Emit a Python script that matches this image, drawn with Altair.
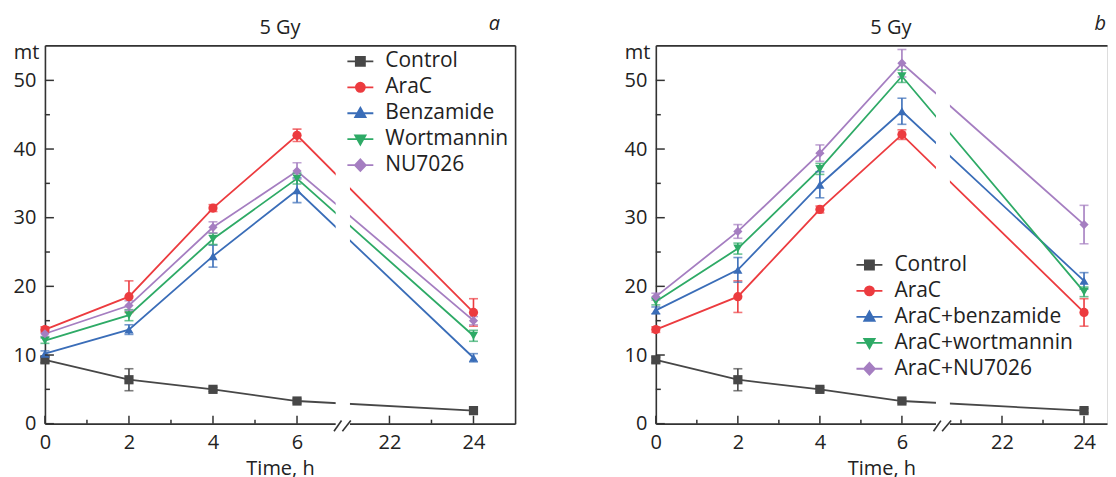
import altair as alt
import pandas as pd

# ---------------- data ----------------
TIMES = [0, 2, 4, 6, 24]

CONTROL = [9.3, 6.4, 5.0, 3.3, 1.9]
CONTROL_ERR = [0.4, 1.6, 0.3, 0.3, 0.3]

A_ARAC = [13.7, 18.5, 31.4, 42.0, 16.2]
A_ARAC_ERR = [0.4, 2.3, 0.5, 0.9, 2.0]
A_BENZ = [10.2, 13.7, 24.4, 34.0, 9.6]
A_BENZ_ERR = [0.4, 0.7, 1.6, 1.8, 0.6]
A_WORT = [12.1, 15.8, 26.9, 35.7, 12.8]
A_WORT_ERR = [0.4, 0.8, 0.8, 0.8, 0.8]
A_NU = [13.1, 17.2, 28.6, 36.8, 15.0]
A_NU_ERR = [0.4, 0.7, 0.8, 1.2, 0.6]

B_ARAC = [13.7, 18.5, 31.2, 42.1, 16.2]
B_ARAC_ERR = [0.4, 2.3, 0.5, 0.7, 2.0]
B_BENZ = [16.5, 22.4, 34.8, 45.5, 20.8]
B_BENZ_ERR = [0.5, 1.8, 1.9, 1.9, 1.2]
B_WORT = [17.8, 25.5, 37.1, 50.6, 19.2]
B_WORT_ERR = [0.5, 0.8, 0.8, 0.9, 0.7]
B_NU = [18.5, 28.0, 39.4, 52.5, 29.0]
B_NU_ERR = [0.5, 1.0, 1.2, 2.0, 2.8]

A_NAMES = ["Control", "AraC", "Benzamide", "Wortmannin", "NU7026"]
B_NAMES = ["Control", "AraC", "AraC+benzamide", "AraC+wortmannin", "AraC+NU7026"]

Y_MAJOR = [0, 10, 20, 30, 40, 50]
Y_MINOR = [5, 15, 25, 35, 45]
X_MAJOR = [0, 2, 4, 6, 22, 24]
A_X_MINOR = [1, 3, 5, 23]
B_X_MINOR = [1, 3, 5, 21, 23]

# ---------------- styles ----------------
COLORS = ["#474747", "#EC3B3F", "#3A6DB8", "#2EAA66", "#A57EC1"]
SHAPES = ["square", "circle", "triangle-up", "triangle-down", "diamond"]
LEG_PATHS = [
    "M-1,0H1M-0.35,-0.35H0.35V0.35H-0.35Z",
    "M-1,0H1M-0.35,0A0.35,0.35 0 1,0 0.35,0A0.35,0.35 0 1,0 -0.35,0Z",
    "M-1,0H1M0,-0.42L0.4,0.3L-0.4,0.3Z",
    "M-1,0H1M0,0.42L0.4,-0.3L-0.4,-0.3Z",
    "M-1,0H1M0,-0.45L0.42,0L0,0.45L-0.42,0Z",
]
FONT = "Open Sans"
TXT = "#222222"
AX = "#333333"
H = 379
YMAX = 55.1


def panel(names, means, errs, offset, xmax, width, minor_hours, rect_x,
          slashes, leg_xy, letter, letter_x, letter_align, right_frame):
    rows = []
    for n, m, e in zip(names, means, errs):
        for t, v, er in zip(TIMES, m, e):
            rows.append({"series": n, "t": t, "y": v, "lo": v - er, "hi": v + er})
    df = pd.DataFrame(rows)
    vexpr = f"datum.t > 10 ? datum.t - {offset} : datum.t"
    base = alt.Chart(df).transform_calculate(v=vexpr)

    xs = alt.Scale(domain=[0, xmax], nice=False, zero=False)
    ys = alt.Scale(domain=[0, YMAX], nice=False, zero=False)
    # reversed order (same mapping) so this scale is not merged with the legend scales
    cs = alt.Scale(domain=names[::-1], range=COLORS[::-1])

    def virt(h):
        return h if h <= 10 else round(h - offset, 4)

    xaxis = alt.Axis(
        values=[virt(h) for h in X_MAJOR],
        labelExpr=f"format(datum.value > 7 ? datum.value + {offset} : datum.value, '.0f')",
        ticks=False, tickSize=0, grid=False, domainColor=AX, domainWidth=1.6,
        labelPadding=9, labelFontSize=20, labelFont=FONT, labelColor=TXT,
        labelFlush=False, labelOverlap=False,
        title="Time, h", titleFontSize=20, titleFont=FONT, titleFontWeight="normal",
        titleColor=TXT, titlePadding=6)
    yaxis = alt.Axis(
        values=Y_MAJOR, format="d", ticks=False, tickSize=0, grid=False,
        domainColor=AX, domainWidth=1.6, labelPadding=9, labelFontSize=20,
        labelFont=FONT, labelColor=TXT, labelFlush=False, labelOverlap=False,
        title="mt", titleAngle=0, titleAlign="right", titleBaseline="alphabetic",
        titleX=-6, titleY=13, titleFontSize=20, titleFont=FONT,
        titleFontWeight="normal", titleColor=TXT)
    frame_x = alt.Axis(orient="top", labels=False, ticks=False, grid=False,
                       domain=True, domainColor=AX, domainWidth=1.6, title=None)
    frame_y = alt.Axis(orient="right", labels=False, ticks=False, grid=False,
                       domain=True, domainColor=AX, domainWidth=1.6, title=None)

    X = lambda f: alt.X(f, scale=xs, axis=None)
    Y = lambda f: alt.Y(f, scale=ys, axis=None)
    C = alt.Color("series:N", scale=cs, legend=None)

    layers = []
    layers.append(base.mark_line(strokeWidth=1.8).encode(
        x=alt.X("v:Q", scale=xs, axis=xaxis),
        y=alt.Y("y:Q", scale=ys, axis=yaxis), color=C))

    rect_df = pd.DataFrame([{"x1": rect_x[0], "x2": rect_x[1], "y1": -0.4, "y2": 54.7}])
    layers.append(alt.Chart(rect_df).mark_rect(color="white").encode(
        x=alt.X("x1:Q", scale=xs, axis=frame_x), x2="x2:Q",
        y=alt.Y("y1:Q", scale=ys, axis=frame_y if right_frame else None), y2="y2:Q"))

    layers.append(base.mark_rule(strokeWidth=1.6).encode(
        x=X("v:Q"), y=Y("lo:Q"), y2="hi:Q", color=C))
    layers.append(base.transform_fold(["lo", "hi"], as_=["k", "cap"]).mark_tick(
        orient="horizontal", size=9, thickness=1.6).encode(
        x=X("v:Q"), y=Y("cap:Q"), color=C))

    for n, shp in zip(names, SHAPES):
        layers.append(base.transform_filter(alt.datum.series == n).mark_point(
            shape=shp, filled=True, size=85, opacity=1).encode(
            x=X("v:Q"), y=Y("y:Q"), color=C))

    # inward ticks
    tmaj = alt.Chart(pd.DataFrame({"t": X_MAJOR})).transform_calculate(v=vexpr, z="0")
    layers.append(tmaj.mark_rule(color=AX, strokeWidth=1.5).encode(
        x=X("v:Q"), y=Y("z:Q"), y2=alt.value(H - 8)))
    tmin = alt.Chart(pd.DataFrame({"t": minor_hours})).transform_calculate(v=vexpr, z="0")
    layers.append(tmin.mark_rule(color=AX, strokeWidth=1.5).encode(
        x=X("v:Q"), y=Y("z:Q"), y2=alt.value(H - 4)))
    layers.append(alt.Chart(pd.DataFrame({"yv": Y_MAJOR})).mark_rule(
        color=AX, strokeWidth=1.5).encode(y=Y("yv:Q"), x=alt.value(0), x2=alt.value(9)))
    layers.append(alt.Chart(pd.DataFrame({"yv": Y_MINOR})).mark_rule(
        color=AX, strokeWidth=1.5).encode(y=Y("yv:Q"), x=alt.value(0), x2=alt.value(5)))

    # axis break marks
    sl_df = pd.DataFrame([{"a": s[0], "b": s[1], "c": -1.1, "d": 0.45} for s in slashes])
    layers.append(alt.Chart(sl_df).mark_rule(color=AX, strokeWidth=1.6).encode(
        x=X("a:Q"), x2="b:Q", y=Y("c:Q"), y2="d:Q"))

    # heading and panel letter
    layers.append(alt.Chart(pd.DataFrame({"s": ["5 Gy"]})).mark_text(
        fontSize=20, font=FONT, color=TXT, align="center",
        baseline="alphabetic").encode(text="s:N", x=alt.value(235.5), y=alt.value(-11)))
    layers.append(alt.Chart(pd.DataFrame({"s": [letter]})).mark_text(
        fontStyle="italic", fontSize=20, font=FONT, color=TXT, align=letter_align,
        baseline="alphabetic").encode(text="s:N", x=alt.value(letter_x), y=alt.value(-15)))

    leg = alt.Legend(title=None, orient="none", legendX=leg_xy[0], legendY=leg_xy[1],
                     labelFontSize=21, labelFont=FONT, labelColor=TXT, labelLimit=400,
                     symbolSize=676, symbolStrokeWidth=1.8, symbolOpacity=1,
                     labelOffset=11, rowPadding=2, padding=0)
    ls = alt.Scale(domain=names, range=COLORS)
    layers.append(base.mark_point(filled=True, size=0).encode(
        x=X("v:Q"), y=Y("y:Q"),
        fill=alt.Fill("series:N", scale=ls, legend=leg),
        stroke=alt.Stroke("series:N", scale=ls, legend=leg),
        shape=alt.Shape("series:N", scale=alt.Scale(domain=names, range=LEG_PATHS),
                        legend=leg)))

    return alt.layer(*layers).resolve_axis(x="independent", y="independent").properties(
        width=width, height=H)


pa = panel(A_NAMES,
           [CONTROL, A_ARAC, A_BENZ, A_WORT, A_NU],
           [CONTROL_ERR, A_ARAC_ERR, A_BENZ_ERR, A_WORT_ERR, A_NU_ERR],
           offset=13.8, xmax=11.19, width=471, minor_hours=A_X_MINOR,
           rect_x=(6.92, 7.26), slashes=[(6.88, 7.06), (7.08, 7.28)],
           leg_xy=(302, 2), letter="a", letter_x=456, letter_align="right",
           right_frame=True)
pb = panel(B_NAMES,
           [CONTROL, B_ARAC, B_BENZ, B_WORT, B_NU],
           [CONTROL_ERR, B_ARAC_ERR, B_BENZ_ERR, B_WORT_ERR, B_NU_ERR],
           offset=13.56, xmax=11.0, width=452, minor_hours=B_X_MINOR,
           rect_x=(6.83, 7.17), slashes=[(6.77, 6.95), (6.98, 7.2)],
           leg_xy=(200, 206), letter="b", letter_x=451, letter_align="right",
           right_frame=False)

chart = alt.hconcat(pa, pb, spacing=107).resolve_scale(
    color="independent", fill="independent", stroke="independent",
    shape="independent").configure_view(stroke="transparent").configure(
    font=FONT, padding={"left": 4, "top": 5, "right": 0, "bottom": 0})

chart.save("out.html", embed_options={"renderer": "svg", "actions": False})
